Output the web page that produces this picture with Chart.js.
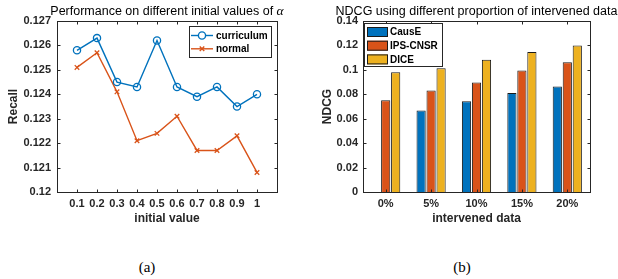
<!DOCTYPE html>
<html><head><meta charset="utf-8">
<script src="https://cdn.jsdelivr.net/npm/chart.js@4/dist/chart.umd.min.js"></script>
<style>
html,body{margin:0;padding:0;background:#fff;}
#wrap{position:relative;width:618px;height:279px;overflow:hidden;background:#fff;}
canvas{position:absolute;top:0;}
.cap{position:absolute;top:259px;font-family:'Liberation Serif',serif;font-size:15px;line-height:16px;color:#000;width:40px;text-align:center;}
</style></head><body>
<div id="wrap">
<canvas id="ca" width="310" height="232" style="left:0"></canvas>
<canvas id="cb" width="308" height="232" style="left:310px"></canvas>
<div class="cap" style="left:127px">(a)</div>
<div class="cap" style="left:442px">(b)</div>
</div>
<script>
// ---- data: chart (a)
const initialValues = [0.1, 0.2, 0.3, 0.4, 0.5, 0.6, 0.7, 0.8, 0.9, 1.0];
const initialLabels = ['0.1','0.2','0.3','0.4','0.5','0.6','0.7','0.8','0.9','1'];
const curriculum = [0.1258, 0.1263, 0.1245, 0.1243, 0.1262, 0.1243, 0.1239, 0.1243, 0.1235, 0.1240];
const normal     = [0.1251, 0.1257, 0.1241, 0.1221, 0.1224, 0.1231, 0.1217, 0.1217, 0.1223, 0.1208];
const recallTicks = [0.120, 0.121, 0.122, 0.123, 0.124, 0.125, 0.126, 0.127];
const recallTickLabels = ['0.12','0.121','0.122','0.123','0.124','0.125','0.126','0.127'];

// ---- data: chart (b)
const interventions = ['0%', '5%', '10%', '15%', '20%'];
const causE   = [null,   0.0668, 0.0744, 0.0810, 0.0864];
const ipsCnsr = [0.0752, 0.0831, 0.0897, 0.0995, 0.1063];
const dice    = [0.0981, 0.1014, 0.1082, 0.1147, 0.1199];
const ndcgTicks = [0, 0.02, 0.04, 0.06, 0.08, 0.10, 0.12, 0.14];
const ndcgTickLabels = ['0','0.02','0.04','0.06','0.08','0.1','0.12','0.14'];

const FONT = '"Liberation Sans", Arial, Helvetica, sans-serif';
Chart.defaults.font.family = FONT;
Chart.defaults.color = '#262626';

const AX = '#262626';

const matlabAxes = {
  id: 'matlabAxes',
  afterDraw(chart, args, o) {
    const ctx = chart.ctx, a = chart.chartArea;
    const xs = chart.scales.x, ys = chart.scales.y;
    ctx.save();
    // box
    ctx.strokeStyle = AX; ctx.lineWidth = 1;
    const L = Math.round(a.left) + 0.5, R = Math.round(a.right) + 0.5;
    const T = Math.round(a.top) + 0.5, B = Math.round(a.bottom) + 0.5;
    ctx.strokeRect(L, T, R - L, B - T);
    const tl = 3;
    ctx.beginPath();
    xs.ticks.forEach((t, i) => {
      const px = Math.round(xs.getPixelForTick(i)) + 0.5;
      ctx.moveTo(px, B); ctx.lineTo(px, B - tl);
      ctx.moveTo(px, T); ctx.lineTo(px, T + tl);
    });
    ys.ticks.forEach((t, i) => {
      const py = Math.round(ys.getPixelForTick(i)) + 0.5;
      ctx.moveTo(L, py); ctx.lineTo(L + tl, py);
      ctx.moveTo(R, py); ctx.lineTo(R - tl, py);
    });
    ctx.stroke();

    // title
    ctx.fillStyle = '#000';
    ctx.textBaseline = 'middle';
    const TF = '12.5px ' + FONT;
    ctx.font = TF;
    const main = o.title || '';
    const sym = o.titleSym || '';
    const w1 = ctx.measureText(main).width;
    let w2 = 0;
    if (sym) { ctx.font = 'italic 13.5px "Liberation Serif", serif'; w2 = ctx.measureText(sym).width; }
    const cx = (a.left + a.right) / 2;
    const x0 = cx - (w1 + w2) / 2;
    ctx.font = TF;
    ctx.textAlign = 'left';
    ctx.fillText(main, x0, o.titleY);
    if (sym) { ctx.font = 'italic 13.5px "Liberation Serif", serif'; ctx.fillText(sym, x0 + w1, o.titleY); }

    // legend
    const lg = o.legend;
    if (lg) {
      const bx = lg.anchor === 'right' ? a.right - lg.dx - lg.w : a.left + lg.dx;
      const by = a.top + lg.dy;
      ctx.fillStyle = '#fff';
      ctx.fillRect(Math.round(bx) + 0.5, Math.round(by) + 0.5, lg.w, lg.h);
      ctx.strokeStyle = AX; ctx.lineWidth = 1;
      ctx.strokeRect(Math.round(bx) + 0.5, Math.round(by) + 0.5, lg.w, lg.h);
      ctx.font = 'bold 10px ' + FONT;
      ctx.textAlign = 'left'; ctx.textBaseline = 'middle';
      chart.data.datasets.forEach((ds, i) => {
        const ry = by + lg.first + i * lg.step;
        if (lg.kind === 'line') {
          ctx.strokeStyle = ds.borderColor; ctx.lineWidth = ds.borderWidth;
          ctx.beginPath(); ctx.moveTo(bx + 2, ry); ctx.lineTo(bx + 24, ry); ctx.stroke();
          Chart.helpers.drawPoint(ctx, {pointStyle: ds.pointStyle, radius: ds.pointRadius, borderWidth: ds.pointBorderWidth, rotation: 0}, bx + 13, ry);
          ctx.fillStyle = '#000';
          ctx.fillText(ds.label, bx + 27, ry + 0.5);
        } else {
          ctx.fillStyle = ds.backgroundColor;
          ctx.fillRect(bx + 3, ry - 5, 21, 10);
          ctx.strokeStyle = '#1a1a1a'; ctx.lineWidth = 1;
          ctx.strokeRect(bx + 3.5, ry - 4.5, 20, 9);
          ctx.fillStyle = '#000';
          ctx.fillText(ds.label, bx + 26, ry + 0.5);
        }
      });
    }
    ctx.restore();
  }
};

function fixedTicks(vals) {
  return function (scale) { scale.ticks = vals.map(v => ({ value: v })); };
}

// ---- chart (a)
new Chart(document.getElementById('ca'), {
  type: 'line',
  data: {
    datasets: [
      {
        label: 'curriculum',
        data: initialValues.map((x, i) => ({ x: x, y: curriculum[i] })),
        borderColor: '#0072BD', borderWidth: 1.4,
        pointStyle: 'circle', pointRadius: 3.6, pointBorderWidth: 1.3,
        pointBorderColor: '#0072BD', pointBackgroundColor: 'rgba(0,0,0,0)',
        tension: 0
      },
      {
        label: 'normal',
        data: initialValues.map((x, i) => ({ x: x, y: normal[i] })),
        borderColor: '#D95319', borderWidth: 1.4,
        pointStyle: 'crossRot', pointRadius: 3.2, pointBorderWidth: 1.3,
        pointBorderColor: '#D95319', pointBackgroundColor: '#D95319',
        tension: 0
      }
    ]
  },
  options: {
    responsive: false, animation: false, events: [],
    layout: { padding: { top: 21, right: 33, left: 0, bottom: 0 } },
    plugins: {
      legend: { display: false }, title: { display: false }, tooltip: { enabled: false },
      matlabAxes: {
        title: 'Performance on different initial values of ', titleSym: 'α', titleY: 11.5,
        legend: { kind: 'line', anchor: 'right', dx: 6, dy: 5, w: 82, h: 31, first: 9.5, step: 13.3 }
      }
    },
    scales: {
      x: {
        type: 'linear', min: 0, max: 1.1,
        afterBuildTicks: fixedTicks(initialValues),
        afterFit: s => { s.height = 40; },
        grid: { display: false, drawTicks: false },
        border: { display: false },
        ticks: { autoSkip: false, maxRotation: 0, padding: 5, color: AX,
                 font: { size: 11, weight: 'bold' },
                 callback: (v, i) => initialLabels[i] },
        title: { display: true, text: 'initial value', color: AX,
                 font: { size: 12, weight: 'bold' }, padding: { top: 0, bottom: 6 } }
      },
      y: {
        min: 0.12, max: 0.127,
        afterBuildTicks: fixedTicks(recallTicks),
        afterFit: s => { s.width = 57; },
        grid: { display: false, drawTicks: false },
        border: { display: false },
        ticks: { padding: 6, color: AX, font: { size: 11, weight: 'bold' },
                 callback: (v, i) => recallTickLabels[i] },
        title: { display: true, text: 'Recall', color: AX,
                 font: { size: 12, weight: 'bold' }, padding: { top: 6, bottom: 0 } }
      }
    }
  },
  plugins: [matlabAxes]
});

// ---- chart (b)
new Chart(document.getElementById('cb'), {
  type: 'bar',
  data: {
    labels: interventions,
    datasets: [
      { label: 'CausE', data: causE, backgroundColor: '#0072BD', borderColor: '#1a1a1a', borderWidth: 1 },
      { label: 'IPS-CNSR', data: ipsCnsr, backgroundColor: '#D95319', borderColor: '#1a1a1a', borderWidth: 1 },
      { label: 'DICE', data: dice, backgroundColor: '#EDB120', borderColor: '#1a1a1a', borderWidth: 1 }
    ]
  },
  options: {
    responsive: false, animation: false, events: [],
    categoryPercentage: 0.66, barPercentage: 0.92,
    layout: { padding: { top: 21, right: 28, left: 0, bottom: 0 } },
    plugins: {
      legend: { display: false }, title: { display: false }, tooltip: { enabled: false },
      matlabAxes: {
        title: 'NDCG using different proportion of intervened data', titleY: 11.5,
        legend: { kind: 'bar', anchor: 'left', dx: 1, dy: 2, w: 78, h: 43, first: 9, step: 13.7 }
      }
    },
    scales: {
      x: {
        afterFit: s => { s.height = 40; },
        grid: { display: false, drawTicks: false },
        border: { display: false },
        ticks: { padding: 5, color: AX, maxRotation: 0, font: { size: 11, weight: 'bold' } },
        title: { display: true, text: 'intervened data', color: AX,
                 font: { size: 12, weight: 'bold' }, padding: { top: 0, bottom: 6 } }
      },
      y: {
        min: 0, max: 0.14,
        afterBuildTicks: fixedTicks(ndcgTicks),
        afterFit: s => { s.width = 53; },
        grid: { display: false, drawTicks: false },
        border: { display: false },
        ticks: { padding: 5, color: AX, font: { size: 11, weight: 'bold' },
                 callback: (v, i) => ndcgTickLabels[i] },
        title: { display: true, text: 'NDCG', color: AX,
                 font: { size: 12, weight: 'bold' }, padding: { top: 10, bottom: 0 } }
      }
    }
  },
  plugins: [matlabAxes]
});
</script>
</body></html>
